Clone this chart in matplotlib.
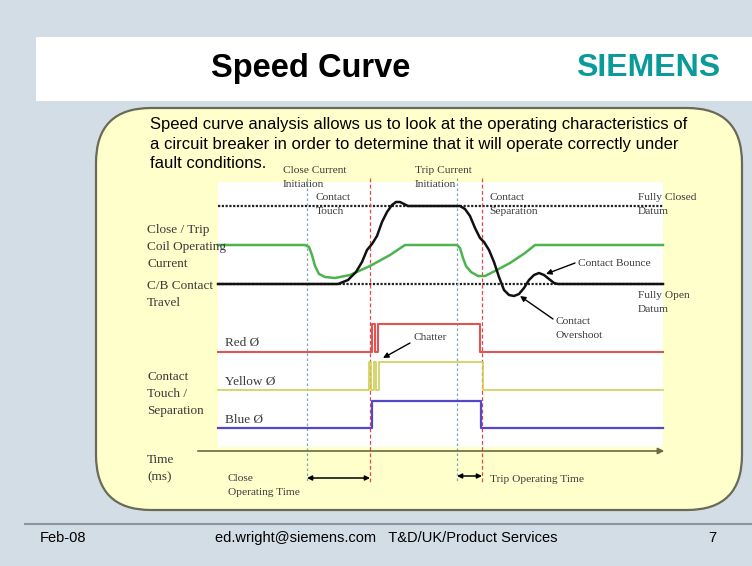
import matplotlib
matplotlib.use("Agg")
import matplotlib.pyplot as plt
from matplotlib.patches import FancyBboxPatch, Rectangle

# Slide drawn in pixel units (x right, y down).

# Event times (x) on the speed curve
event_labels = ["Close Current\nInitiation", "Contact\nTouch",
                "Trip Current\nInitiation", "Contact\nSeparation"]
event_x = [307, 370, 457, 482]
event_kind = ["init", "touch", "init", "touch"]

# Datum levels
closed_datum_y = 206
open_datum_y = 284

# Close / trip coil operating current (green)
coil_x = [218, 305, 309, 312, 315, 319, 325, 335, 350, 370, 390, 405,
          457, 460, 463, 466, 471, 478, 485, 495, 510, 525, 535, 663]
coil_y = [245, 245, 247, 255, 266, 274, 277, 278, 275, 266, 255, 245,
          245, 248, 258, 266, 272, 276, 276, 271, 263, 253, 245, 245]

# C/B contact travel (black)
travel_x = [218, 338, 348, 356, 362, 367, 372, 377, 382, 387, 392, 396,
            400, 404, 408, 460, 465, 470, 475, 480, 484, 489, 494, 499,
            504, 509, 514, 519, 524, 529, 534, 539, 544, 549, 554, 558, 663]
travel_y = [284, 284, 280, 272, 262, 250, 244, 236, 222, 212, 205, 202,
            202, 204, 206, 206, 209, 216, 228, 238, 242, 250, 262, 277,
            290, 295, 296, 294, 288, 280, 275, 273, 275, 279, 283, 284, 284]

# Contact touch / separation per phase
red_x = [218, 372, 372, 375, 375, 378, 378, 480, 480, 663]
red_y = [352, 352, 324, 324, 352, 352, 324, 324, 352, 352]
yellow_x = [218, 369, 369, 371, 371, 374, 374, 376, 376, 379, 379, 483, 483, 663]
yellow_y = [390, 390, 362, 362, 390, 390, 362, 362, 390, 390, 362, 362, 390, 390]
blue_x = [218, 372, 372, 481, 481, 663]
blue_y = [428, 428, 401, 401, 428, 428]

phase_names = ["Red Ø", "Yellow Ø", "Blue Ø"]
phase_label_y = [343, 382, 420]

body_lines = ["Speed curve analysis allows us to look at the operating characteristics of",
              "a circuit breaker in order to determine that it will operate correctly under",
              "fault conditions."]
body_y = [125, 144, 163]

SERIF = "Liberation Serif"
SANS = "Liberation Sans"
TXT = "#3a3a3a"


def main():
    fig = plt.figure(figsize=(7.52, 5.66), dpi=100)
    fig.patch.set_facecolor("#d3dde6")
    ax = fig.add_axes([0, 0, 1, 1])
    ax.set_xlim(0, 752)
    ax.set_ylim(566, 0)
    ax.axis("off")

    # title band
    ax.add_patch(Rectangle((36, 37), 716, 64, facecolor="white", edgecolor="none"))
    ax.text(311, 68, "Speed Curve", fontsize=23.5, fontweight="bold", family=SANS,
            ha="center", va="center", color="black")
    ax.text(648, 68, "SIEMENS", fontsize=23, fontweight="bold", family=SANS,
            ha="center", va="center", color="#0a9a9a")

    # rounded yellow panel
    ax.add_patch(FancyBboxPatch((96, 108), 646, 402,
                                boxstyle="round,pad=0,rounding_size=55",
                                facecolor="#ffffcc", edgecolor="#6a6a58", lw=1.6))
    for line, y in zip(body_lines, body_y):
        ax.text(150, y, line, fontsize=12, family=SANS, va="center",
                ha="left", color="black")

    # white drawing area
    ax.add_patch(Rectangle((218, 182), 445, 265, facecolor="white", edgecolor="none"))

    # datum lines
    for y in (closed_datum_y, open_datum_y):
        ax.plot([218, 663], [y, y], color="#222222", lw=1.6, dashes=(1, 0.7))

    # event markers
    for x, kind in zip(event_x, event_kind):
        if kind == "init":
            ax.plot([x, x], [178, 482], color="#7fa6b4", lw=0.9, dashes=(2, 2))
        else:
            ax.plot([x, x], [178, 482], color="#e04848", lw=0.9, dashes=(3, 2))

    ax.plot(coil_x, coil_y, color="#4db34d", lw=1.8, solid_joinstyle="round")
    ax.plot(travel_x, travel_y, color="#111111", lw=1.8, solid_joinstyle="round")

    ax.plot(red_x, red_y, color="#e25454", lw=1.5)
    ax.plot(yellow_x, yellow_y, color="#cfcf55", lw=1.2)
    ax.plot(blue_x, blue_y, color="#5548c8", lw=1.6)

    # time axis
    ax.annotate("", xy=(667, 451), xytext=(195, 451),
                arrowprops=dict(arrowstyle="-|>", color="#6a6a4a", lw=1.2,
                                mutation_scale=9))

    # operating time spans
    ax.annotate("", xy=(event_x[1], 478), xytext=(event_x[0], 478),
                arrowprops=dict(arrowstyle="<|-|>", color="black", lw=1.1,
                                mutation_scale=7, shrinkA=0, shrinkB=0))
    ax.annotate("", xy=(event_x[3], 476), xytext=(event_x[2], 476),
                arrowprops=dict(arrowstyle="<|-|>", color="black", lw=1.1,
                                mutation_scale=7, shrinkA=0, shrinkB=0))

    small = dict(family=SERIF, fontsize=8.2, color=TXT, linespacing=1.65)
    label = dict(family=SERIF, fontsize=9.5, color=TXT, linespacing=1.55)

    # event labels
    ax.text(283, 166, event_labels[0], va="top", **small)
    ax.text(316, 193, event_labels[1], va="top", **small)
    ax.text(415, 166, event_labels[2], va="top", **small)
    ax.text(489, 193, event_labels[3], va="top", **small)
    ax.text(638, 193, "Fully Closed\nDatum", va="top", **small)
    ax.text(638, 291, "Fully Open\nDatum", va="top", **small)

    # annotations with arrows
    arrow = dict(arrowstyle="-|>", color="black", lw=1.0, mutation_scale=8,
                 shrinkA=0, shrinkB=0)
    ax.annotate("", xy=(546, 274), xytext=(575, 263), arrowprops=arrow)
    ax.text(578, 263, "Contact Bounce", va="center", **small)
    ax.annotate("", xy=(520, 296), xytext=(553, 319), arrowprops=arrow)
    ax.text(556, 317, "Contact\nOvershoot", va="top", **small)
    ax.annotate("", xy=(383, 358), xytext=(410, 343), arrowprops=arrow)
    ax.text(413, 337, "Chatter", va="center", **small)

    ax.text(228, 474, "Close\nOperating Time", va="top", **small)
    ax.text(490, 479, "Trip Operating Time", va="center", **small)

    # left-hand labels
    ax.text(147, 224, "Close / Trip\nCoil Operating\nCurrent", va="top", **label)
    ax.text(147, 280, "C/B Contact\nTravel", va="top", **label)
    ax.text(147, 371, "Contact\nTouch /\nSeparation", va="top", **label)
    ax.text(147, 454, "Time\n(ms)", va="top", **label)
    for name, y in zip(phase_names, phase_label_y):
        ax.text(225, y, name, va="center", **label)

    # footer
    ax.plot([25, 752], [524, 524], color="#8c969e", lw=1.5)
    foot = dict(family=SANS, fontsize=10.5, color="black", va="center")
    ax.text(40, 538, "Feb-08", ha="left", **foot)
    ax.text(215, 538, "ed.wright@siemens.com   T&D/UK/Product Services", ha="left", **foot)
    ax.text(712, 538, "7", ha="center", **foot)

    fig.savefig("out.png", dpi=100, facecolor=fig.get_facecolor())


if __name__ == "__main__":
    main()
